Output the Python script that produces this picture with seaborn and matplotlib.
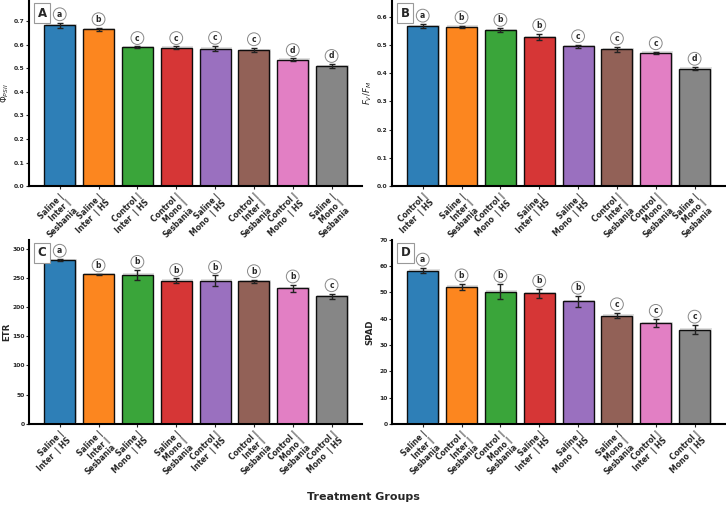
import matplotlib
matplotlib.use("Agg")
import matplotlib.pyplot as plt
import seaborn as sns
import numpy as np
import pandas as pd
import matplotlib.patheffects as pe

sns.set_style("white")
plt.rcParams['font.family'] = ['DejaVu Sans']

# ---- data ----
a_groups = ["Saline | Inter | Sesbania", "Saline | Inter | HS", "Control | Inter | HS",
            "Control | Mono | Sesbania", "Saline | Mono | HS", "Control | Inter | Sesbania",
            "Control | Mono | HS", "Saline | Mono | Sesbania"]
a_means = [0.682, 0.665, 0.590, 0.588, 0.584, 0.578, 0.537, 0.509]
a_errs = [0.012, 0.008, 0.003, 0.005, 0.010, 0.010, 0.005, 0.008]
a_letters = ["a", "b", "c", "c", "c", "c", "d", "d"]

b_groups = ["Control | Inter | HS", "Saline | Inter | Sesbania", "Control | Mono | HS",
            "Saline | Inter | HS", "Saline | Mono | HS", "Control | Inter | Sesbania",
            "Control | Mono | Sesbania", "Saline | Mono | Sesbania"]
b_means = [0.567, 0.565, 0.553, 0.529, 0.496, 0.485, 0.473, 0.416]
b_errs = [0.008, 0.004, 0.007, 0.012, 0.006, 0.009, 0.004, 0.006]
b_letters = ["a", "b", "b", "b", "c", "c", "c", "d"]

c_groups = ["Saline | Inter | HS", "Saline | Inter | Sesbania", "Saline | Mono | HS",
            "Saline | Mono | Sesbania", "Control | Inter | HS", "Control | Inter | Sesbania",
            "Control | Mono | Sesbania", "Control | Mono | HS"]
c_means = [280, 256, 255, 245, 245, 244, 232, 218]
c_errs = [2, 1, 8, 4, 9, 3, 6, 5]
c_letters = ["a", "b", "b", "b", "b", "b", "b", "c"]

d_groups = ["Saline | Inter | Sesbania", "Control | Inter | Sesbania", "Control | Mono | Sesbania",
            "Saline | Inter | HS", "Saline | Mono | HS", "Saline | Mono | Sesbania",
            "Control | Inter | HS", "Control | Mono | HS"]
d_means = [58.3, 52.2, 50.3, 49.6, 46.6, 41.2, 38.3, 35.8]
d_errs = [1.0, 1.1, 2.8, 1.6, 2.0, 1.1, 1.5, 1.8]
d_letters = ["a", "b", "b", "b", "b", "c", "c", "c"]

panels = [
    ("A", a_groups, a_means, a_errs, a_letters, r"$\Phi_{PSII}$", False, 0.79, [0, 0.1, 0.2, 0.3, 0.4, 0.5, 0.6, 0.7]),
    ("B", b_groups, b_means, b_errs, b_letters, r"$F_V/F_M$", False, 0.66, [0, 0.1, 0.2, 0.3, 0.4, 0.5, 0.6]),
    ("C", c_groups, c_means, c_errs, c_letters, "ETR", True, 315, [0, 50, 100, 150, 200, 250, 300]),
    ("D", d_groups, d_means, d_errs, d_letters, "SPAD", True, 70, [0, 10, 20, 30, 40, 50, 60, 70]),
]

positions = {
    "A": [0.040, 0.633, 0.459, 0.367],
    "B": [0.540, 0.633, 0.459, 0.367],
    "C": [0.040, 0.164, 0.459, 0.363],
    "D": [0.540, 0.164, 0.459, 0.363],
}

colors = sns.color_palette("tab10", 8)


def wrap_label(s):
    parts = s.split(" | ")
    if parts[2] == "HS":
        return parts[0] + " |\n" + parts[1] + "  | HS"
    return parts[0] + " |\n" + parts[1] + " |\n" + parts[2]


fig = plt.figure(figsize=(7.26, 5.07), dpi=100)

for tag, groups, means, errs, letters, ylab, boldlab, ymax, yticks in panels:
    ax = fig.add_axes(positions[tag])
    df = pd.DataFrame({"group": groups, "mean": means})
    sns.barplot(data=df, x="group", y="mean", hue="group", order=groups,
                palette=colors, dodge=False, legend=False, errorbar=None,
                saturation=1, width=0.8, alpha=0.92, edgecolor="black",
                linewidth=1.0, ax=ax)
    for p in ax.patches:
        p.set_path_effects([pe.SimplePatchShadow(offset=(1, 1), alpha=0.25, shadow_rgbFace="gray"), pe.Normal()])
    x = np.arange(len(groups))
    ax.errorbar(x, means, yerr=errs, fmt="none", ecolor="#222222", elinewidth=1.0,
                capsize=2.5, capthick=1.0, zorder=5)
    for xi, m, e, l in zip(x, means, errs, letters):
        ax.annotate(l, (xi, m + e), xytext=(0, 6), textcoords="offset points",
                    ha="center", va="center", fontsize=5.5, fontweight="bold",
                    bbox=dict(boxstyle="circle,pad=0.25", fc="white", ec="#888888", lw=0.7),
                    zorder=6)
    ax.set_xlim(-0.79, 7.79)
    ax.set_ylim(0, ymax)
    ax.set_yticks(yticks)
    ax.set_xticks(x)
    ax.set_xticklabels([wrap_label(g) for g in groups], rotation=45, ha="right",
                       rotation_mode="anchor", fontsize=5.5, fontweight="bold", linespacing=1.05)
    for t in ax.get_yticklabels():
        t.set_fontweight("bold")
        t.set_fontsize(4.3)
    ax.tick_params(axis="x", length=2.5, width=0.8, pad=1.5, bottom=True)
    ax.tick_params(axis="y", length=2.0, width=0.8, pad=1.0, left=True)
    ax.set_xlabel("")
    if boldlab:
        ax.set_ylabel(ylab, fontsize=6.2, fontweight="bold")
    else:
        ax.set_ylabel(ylab, fontsize=6.2)
    ax.yaxis.set_label_coords(-0.054, 0.5)
    for s in ["top", "right"]:
        ax.spines[s].set_visible(False)
    for s in ["left", "bottom"]:
        ax.spines[s].set_linewidth(1.5)
        ax.spines[s].set_color("black")
    ax.text(0.026, 0.965, tag, transform=ax.transAxes, ha="left", va="top",
            fontsize=8.5, fontweight="bold",
            bbox=dict(boxstyle="square,pad=0.3", fc="white", ec="#999999", lw=0.8))

fig.text(0.5, 0.019, "Treatment Groups", ha="center", va="center", fontsize=8, fontweight="bold")

fig.savefig("out.png", dpi=100)
